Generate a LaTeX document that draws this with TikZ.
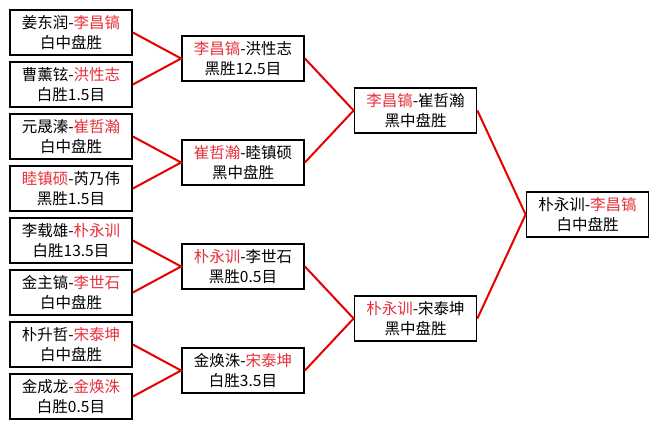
\documentclass[tikz,border=0pt]{standalone}
\usepackage{fontspec}
\setmainfont{Noto Sans CJK SC}
\definecolor{redtxt}{RGB}{232,48,58}
\definecolor{redline}{RGB}{230,0,0}
\newcommand{\rd}[1]{\textcolor{redtxt}{#1}}
\begin{document}
\begin{tikzpicture}[x=1pt,y=-1pt,
  game/.style={draw=black,line width=1.8pt,rectangle,minimum width=122pt,minimum height=45pt,
    inner sep=0pt,align=center,font=\fontsize{15.5pt}{20pt}\selectfont,fill=white},
  link/.style={draw=redline,line width=2pt}]
\useasboundingbox[fill=white] (0,0) rectangle (659,429);
% round 1
\node[game] (a1) at (71,32.5) {姜东润-\rd{李昌镐}\\白中盘胜};
\node[game] (a2) at (71,84.5) {曹薰铉-\rd{洪性志}\\白胜1.5目};
\node[game] (a3) at (71,136.5) {元晟溱-\rd{崔哲瀚}\\白中盘胜};
\node[game] (a4) at (71,188.5) {\rd{睦镇硕}-芮乃伟\\黑胜1.5目};
\node[game] (a5) at (71,240.5) {李载雄-\rd{朴永训}\\白胜13.5目};
\node[game] (a6) at (71,292.5) {金主镐-\rd{李世石}\\白中盘胜};
\node[game] (a7) at (71,344.5) {朴升哲-\rd{宋泰坤}\\白中盘胜};
\node[game] (a8) at (71,396.5) {金成龙-\rd{金焕洙}\\白胜0.5目};
% round 2
\node[game] (b1) at (243,58.5) {\rd{李昌镐}-洪性志\\黑胜12.5目};
\node[game] (b2) at (243,162.5) {\rd{崔哲瀚}-睦镇硕\\黑中盘胜};
\node[game] (b3) at (243,266.5) {\rd{朴永训}-李世石\\黑胜0.5目};
\node[game] (b4) at (243,370.5) {金焕洙-\rd{宋泰坤}\\白胜3.5目};
% round 3
\node[game] (c1) at (415.5,110.5) {\rd{李昌镐}-崔哲瀚\\黑中盘胜};
\node[game] (c2) at (415.5,318.5) {\rd{朴永训}-宋泰坤\\黑中盘胜};
% final
\node[game] (d1) at (587.5,214.5) {朴永训-\rd{李昌镐}\\白中盘胜};
% connectors
\draw[link] (a1.east) -- (b1.west) -- (a2.east);
\draw[link] (a3.east) -- (b2.west) -- (a4.east);
\draw[link] (a5.east) -- (b3.west) -- (a6.east);
\draw[link] (a7.east) -- (b4.west) -- (a8.east);
\draw[link] (b1.east) -- (c1.west) -- (b2.east);
\draw[link] (b3.east) -- (c2.west) -- (b4.east);
\draw[link] (c1.east) -- (d1.west) -- (c2.east);
\end{tikzpicture}
\end{document}
